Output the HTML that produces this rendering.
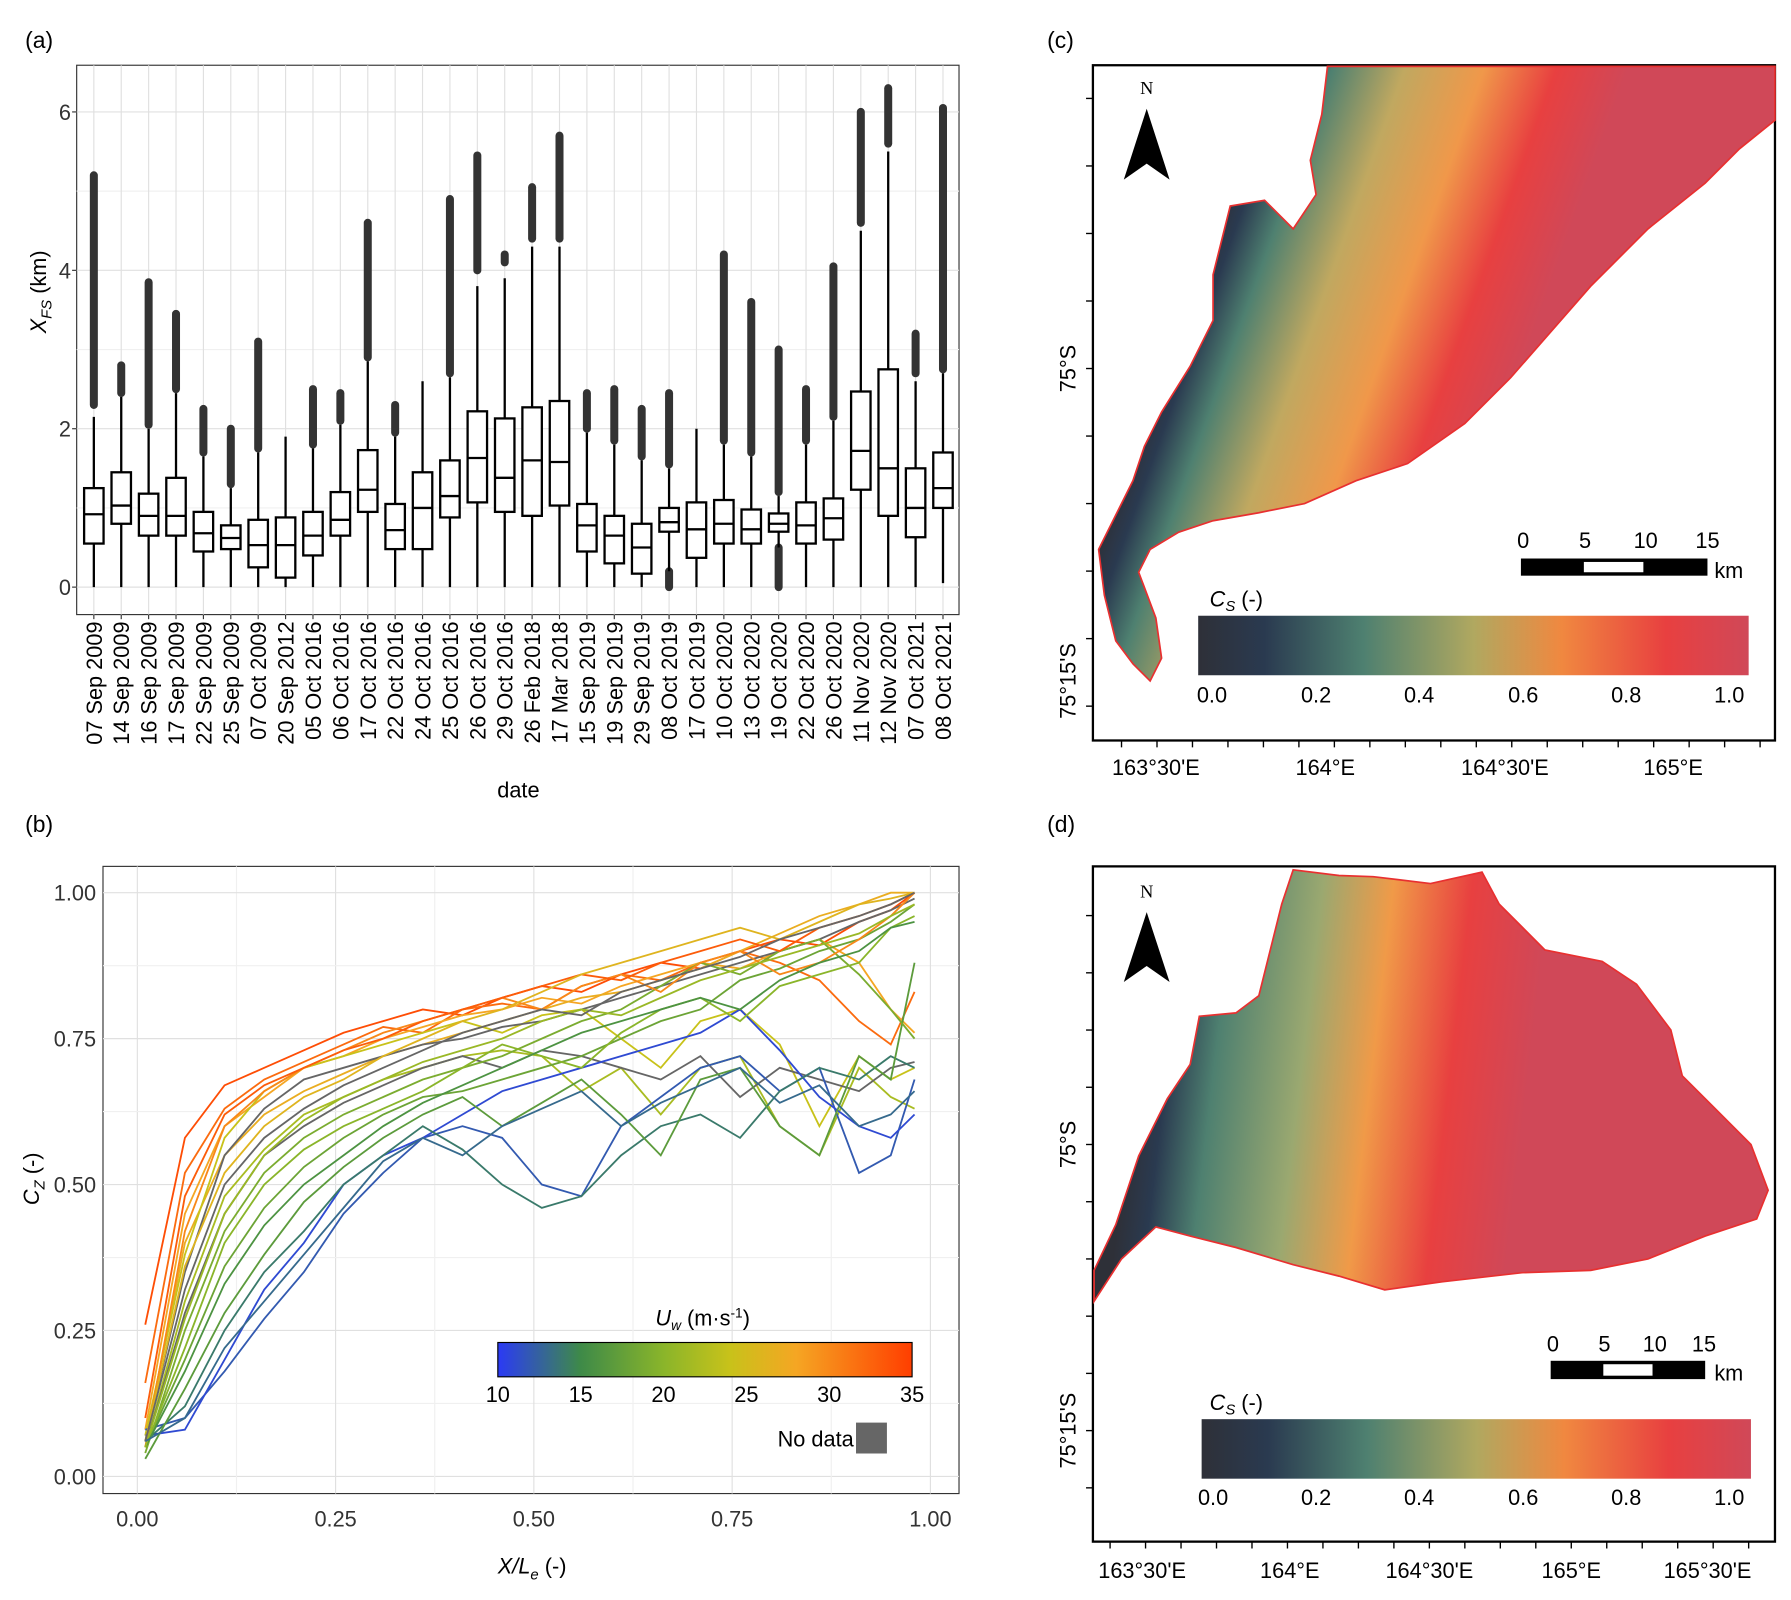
<!DOCTYPE html>
<html><head><meta charset="utf-8"><style>
html,body{margin:0;padding:0;background:#fff;}
svg{display:block;font-family:"Liberation Sans",Arial,sans-serif;}
</style></head><body>
<svg id="fig" width="1791" height="1600" viewBox="0 0 1565 1398" preserveAspectRatio="none" xmlns="http://www.w3.org/2000/svg">
<defs>
<linearGradient id="csgrad" x1="0" x2="1" y1="0" y2="0">
<stop offset="0" stop-color="#2e3038"/><stop offset="0.12" stop-color="#2a3a50"/><stop offset="0.3" stop-color="#4e8070"/><stop offset="0.5" stop-color="#b0a860"/><stop offset="0.66" stop-color="#f08840"/><stop offset="0.85" stop-color="#e84040"/><stop offset="1" stop-color="#d04858"/>
</linearGradient>
<linearGradient id="mapc" gradientUnits="userSpaceOnUse" x1="1050" y1="220" x2="1330" y2="320">
<stop offset="0" stop-color="#2e3038"/><stop offset="0.07" stop-color="#2a3a50"/><stop offset="0.18" stop-color="#4e8070"/><stop offset="0.38" stop-color="#c0a860"/><stop offset="0.6" stop-color="#f0984a"/><stop offset="0.8" stop-color="#e84040"/><stop offset="1" stop-color="#d04858"/>
</linearGradient>
<linearGradient id="mapd" gradientUnits="userSpaceOnUse" x1="990" y1="950" x2="1330" y2="990">
<stop offset="0" stop-color="#2e3038"/><stop offset="0.08" stop-color="#2a3a50"/><stop offset="0.2" stop-color="#4e8070"/><stop offset="0.42" stop-color="#9aa870"/><stop offset="0.6" stop-color="#f09a48"/><stop offset="0.8" stop-color="#e84040"/><stop offset="1" stop-color="#d04858"/>
</linearGradient>
<linearGradient id="uwgrad" x1="0" x2="1" y1="0" y2="0">
<stop offset="0" stop-color="#2b3af5"/><stop offset="0.2" stop-color="#3e8a48"/><stop offset="0.4" stop-color="#8ab52a"/><stop offset="0.56" stop-color="#c8c21a"/><stop offset="0.72" stop-color="#f5a623"/><stop offset="1" stop-color="#ff3e00"/>
</linearGradient>
</defs>
<g id="pa"></g>
<g id="pb"></g>

<!-- panel c -->
<g>
<text x="915" y="42" font-size="20">(c)</text>
<rect x="955" y="57" width="596" height="590" fill="#fff" stroke="#000" stroke-width="2"/>
<polygon fill="url(#mapc)" stroke="#e83030" stroke-width="1.5" points="1160,58 1551,58 1551,105 1520,130 1490,160 1440,200 1410,230 1390,250 1355,290 1320,330 1280,370 1230,405 1185,420 1140,440 1100,448 1060,455 1030,465 1005,480 995,500 1010,540 1015,575 1005,595 990,580 975,560 965,520 960,480 975,450 990,420 1000,390 1015,360 1040,320 1060,280 1060,240 1075,180 1105,175 1130,200 1150,170 1145,140 1155,100"/>
<text x="1002" y="82" font-size="16" font-family="Liberation Serif,serif" text-anchor="middle">N</text>
<polygon points="1002,95 982,157 1002,143 1022,157" fill="#000"/>
<g>
<rect x="1329" y="488" width="163" height="15" fill="#000"/><rect x="1384" y="491" width="52" height="9" fill="#fff"/>
<text x="1331" y="479" font-size="19" text-anchor="middle">0</text><text x="1385" y="479" font-size="19" text-anchor="middle">5</text><text x="1438" y="479" font-size="19" text-anchor="middle">10</text><text x="1492" y="479" font-size="19" text-anchor="middle">15</text><text x="1498" y="505" font-size="19">km</text>
</g>
<text x="1057" y="530" font-size="19"><tspan font-style="italic">C</tspan><tspan font-style="italic" font-size="13" dy="4">S</tspan><tspan dy="-4"> (-)</tspan></text>
<rect x="1047" y="538" width="481" height="52" fill="url(#csgrad)"/>
<g font-size="19" text-anchor="middle">
<text x="1059" y="614">0.0</text><text x="1150" y="614">0.2</text><text x="1240" y="614">0.4</text><text x="1331" y="614">0.6</text><text x="1421" y="614">0.8</text><text x="1511" y="614">1.0</text></g>
<g font-size="19" text-anchor="middle">
<text x="1010" y="677">163°30'E</text><text x="1158" y="677">164°E</text><text x="1315" y="677">164°30'E</text><text x="1462" y="677">165°E</text></g>
<text transform="translate(940,322) rotate(-90)" font-size="19" text-anchor="middle">75°S</text>
<text transform="translate(940,595) rotate(-90)" font-size="19" text-anchor="middle">75°15'S</text>
<g id="ticksc" stroke="#000" stroke-width="1.2"></g>
</g>

<!-- panel d -->
<g>
<text x="915" y="727" font-size="20">(d)</text>
<rect x="955" y="757" width="596" height="590" fill="#fff" stroke="#000" stroke-width="2"/>
<polygon fill="url(#mapd)" stroke="#e83030" stroke-width="1.5" points="1130,760 1170,765 1200,766 1250,772 1295,762 1310,790 1330,810 1350,830 1400,840 1430,860 1445,880 1460,900 1470,940 1500,970 1530,1000 1545,1040 1535,1065 1490,1080 1440,1100 1390,1110 1330,1112 1260,1120 1210,1127 1170,1115 1130,1105 1080,1090 1040,1080 1010,1072 980,1100 956,1137 956,1110 975,1070 995,1010 1020,960 1040,930 1048,888 1080,885 1100,870 1110,830 1120,790"/>
<text x="1002" y="784" font-size="16" font-family="Liberation Serif,serif" text-anchor="middle">N</text>
<polygon points="1002,797 982,858 1002,844 1022,858" fill="#000"/>
<g>
<rect x="1355" y="1189" width="135" height="16" fill="#000"/><rect x="1401" y="1192" width="43" height="10" fill="#fff"/>
<text x="1357" y="1181" font-size="19" text-anchor="middle">0</text><text x="1402" y="1181" font-size="19" text-anchor="middle">5</text><text x="1446" y="1181" font-size="19" text-anchor="middle">10</text><text x="1489" y="1181" font-size="19" text-anchor="middle">15</text><text x="1498" y="1206" font-size="19">km</text>
</g>
<text x="1057" y="1232" font-size="19"><tspan font-style="italic">C</tspan><tspan font-style="italic" font-size="13" dy="4">S</tspan><tspan dy="-4"> (-)</tspan></text>
<rect x="1050" y="1240" width="480" height="52" fill="url(#csgrad)"/>
<g font-size="19" text-anchor="middle">
<text x="1060" y="1315">0.0</text><text x="1150" y="1315">0.2</text><text x="1240" y="1315">0.4</text><text x="1331" y="1315">0.6</text><text x="1421" y="1315">0.8</text><text x="1511" y="1315">1.0</text></g>
<g font-size="19" text-anchor="middle">
<text x="998" y="1379">163°30'E</text><text x="1127" y="1379">164°E</text><text x="1249" y="1379">164°30'E</text><text x="1373" y="1379">165°E</text><text x="1492" y="1379">165°30'E</text></g>
<text transform="translate(940,1000) rotate(-90)" font-size="19" text-anchor="middle">75°S</text>
<text transform="translate(940,1250) rotate(-90)" font-size="19" text-anchor="middle">75°15'S</text>
<g id="ticksd" stroke="#000" stroke-width="1.2"></g>
</g>
</svg>
<script>
// ---------- Panel (a) data ----------
const dates=["07 Sep 2009","14 Sep 2009","16 Sep 2009","17 Sep 2009","22 Sep 2009","25 Sep 2009","07 Oct 2009","20 Sep 2012","05 Oct 2016","06 Oct 2016","17 Oct 2016","22 Oct 2016","24 Oct 2016","25 Oct 2016","26 Oct 2016","29 Oct 2016","26 Feb 2018","17 Mar 2018","15 Sep 2019","19 Sep 2019","29 Sep 2019","08 Oct 2019","17 Oct 2019","10 Oct 2020","13 Oct 2020","19 Oct 2020","22 Oct 2020","26 Oct 2020","11 Nov 2020","12 Nov 2020","07 Oct 2021","08 Oct 2021"];
const q1=[0.55,0.8,0.65,0.65,0.45,0.48,0.25,0.12,0.4,0.65,0.95,0.48,0.48,0.88,1.07,0.95,0.9,1.03,0.45,0.3,0.17,0.7,0.37,0.55,0.55,0.7,0.55,0.6,1.23,0.9,0.63,1.0];
const med=[0.92,1.03,0.9,0.9,0.68,0.62,0.53,0.53,0.65,0.85,1.23,0.72,1.0,1.15,1.63,1.38,1.6,1.58,0.78,0.65,0.5,0.82,0.73,0.8,0.73,0.8,0.78,0.87,1.72,1.5,1.0,1.25];
const q3=[1.25,1.45,1.18,1.38,0.95,0.78,0.85,0.88,0.95,1.2,1.73,1.05,1.45,1.6,2.22,2.13,2.27,2.35,1.05,0.9,0.8,1.0,1.07,1.1,0.98,0.93,1.07,1.12,2.47,2.75,1.5,1.7];
const whiskLo=[0,0,0,0,0,0,0,0,0,0,0,0,0,0,0,0,0,0,0,0,0,0.2,0,0,0,0.5,0,0,0,0,0,0.05];
const whiskHi=[2.15,2.4,2.0,2.45,1.65,1.25,1.7,1.9,1.75,2.05,2.85,1.9,2.6,2.65,3.8,3.9,4.3,4.3,1.95,1.8,1.6,1.5,2.0,1.8,1.65,1.15,1.8,2.1,4.5,5.5,2.6,2.7];
const outLo=[2.3,2.45,2.05,2.5,1.7,1.3,1.75,null,1.8,2.1,2.9,1.95,null,2.7,4.0,4.1,4.4,4.4,2.0,1.85,1.65,1.55,null,1.85,1.7,1.2,1.85,2.15,4.6,5.6,2.7,2.75];
const outHi=[5.2,2.8,3.85,3.45,2.25,2.0,3.1,null,2.5,2.45,4.6,2.3,null,4.9,5.45,4.2,5.05,5.7,2.45,2.5,2.25,2.45,null,4.2,3.6,3.0,2.5,4.05,6.0,6.3,3.2,6.05];
const yTicksA=[0,2,4,6];

// ---------- Panel (b) data ----------
const xsB=[0.01,0.06,0.11,0.16,0.21,0.26,0.31,0.36,0.41,0.46,0.51,0.56,0.61,0.66,0.71,0.76,0.81,0.86,0.91,0.95,0.98];
const windB=[34,32,28,27,24,22,null,null,12,11,14,17,18,19,20,30,33,26,16,21,null,13];
const s1=[0.26,0.58,0.67,0.70,0.73,0.76,0.78,0.80,0.79,0.82,0.84,0.83,0.86,0.88,0.87,0.90,0.92,0.91,0.95,0.97,1.00];
const s2=[0.16,0.52,0.63,0.68,0.71,0.74,0.77,0.76,0.80,0.81,0.80,0.84,0.86,0.85,0.88,0.90,0.88,0.85,0.78,0.74,0.83];
const s3=[0.08,0.45,0.60,0.65,0.70,0.72,0.75,0.77,0.79,0.80,0.82,0.81,0.84,0.86,0.88,0.87,0.90,0.92,0.88,0.80,0.76];
const s4=[0.06,0.40,0.55,0.62,0.66,0.69,0.72,0.74,0.76,0.78,0.80,0.82,0.83,0.85,0.87,0.90,0.93,0.96,0.98,1.00,1.00];
const s5=[0.07,0.38,0.58,0.66,0.70,0.72,0.74,0.76,0.78,0.76,0.79,0.80,0.75,0.70,0.78,0.80,0.74,0.60,0.72,0.68,0.70];
const s6=[0.05,0.30,0.48,0.56,0.62,0.65,0.68,0.70,0.72,0.73,0.72,0.66,0.70,0.62,0.70,0.72,0.60,0.55,0.70,0.65,0.63];
const s7=[0.06,0.35,0.55,0.63,0.68,0.70,0.72,0.74,0.75,0.77,0.78,0.80,0.82,0.84,0.86,0.88,0.90,0.92,0.95,0.97,0.99];
const s8=[0.05,0.28,0.45,0.55,0.60,0.64,0.67,0.70,0.72,0.70,0.73,0.72,0.70,0.68,0.72,0.65,0.70,0.68,0.66,0.70,0.71];
const s9=[0.08,0.10,0.18,0.27,0.35,0.45,0.52,0.58,0.60,0.58,0.50,0.48,0.60,0.65,0.70,0.72,0.66,0.70,0.52,0.55,0.68];
const s10=[0.07,0.08,0.20,0.32,0.40,0.50,0.55,0.58,0.62,0.66,0.68,0.70,0.72,0.74,0.76,0.80,0.73,0.65,0.60,0.58,0.62];
const s11=[0.06,0.12,0.25,0.35,0.42,0.50,0.55,0.60,0.56,0.50,0.46,0.48,0.55,0.60,0.62,0.58,0.66,0.70,0.68,0.72,0.70];
const s12=[0.03,0.15,0.28,0.38,0.47,0.53,0.58,0.62,0.65,0.60,0.64,0.68,0.62,0.55,0.68,0.70,0.60,0.55,0.72,0.68,0.88];
const s13=[0.05,0.20,0.36,0.46,0.53,0.58,0.62,0.65,0.66,0.68,0.70,0.72,0.75,0.78,0.80,0.85,0.87,0.90,0.92,0.95,0.98];
const s14=[0.04,0.25,0.42,0.52,0.58,0.62,0.65,0.68,0.70,0.72,0.75,0.78,0.80,0.84,0.88,0.86,0.90,0.92,0.86,0.80,0.75];
const s15=[0.05,0.22,0.40,0.50,0.56,0.60,0.63,0.66,0.70,0.74,0.72,0.70,0.76,0.80,0.82,0.78,0.84,0.86,0.88,0.94,0.96];
const s16=[0.05,0.42,0.60,0.66,0.70,0.73,0.76,0.78,0.80,0.82,0.80,0.84,0.86,0.83,0.88,0.90,0.86,0.88,0.92,0.96,1.00];
const s17=[0.10,0.48,0.62,0.67,0.70,0.73,0.75,0.78,0.80,0.82,0.84,0.86,0.85,0.88,0.90,0.92,0.90,0.94,0.96,0.98,1.00];
const s18=[0.06,0.36,0.52,0.60,0.65,0.68,0.72,0.75,0.78,0.80,0.83,0.86,0.88,0.90,0.92,0.94,0.92,0.95,0.98,0.99,1.00];
const s19=[0.05,0.18,0.33,0.43,0.50,0.55,0.60,0.64,0.67,0.70,0.73,0.76,0.78,0.80,0.82,0.80,0.85,0.88,0.90,0.94,0.95];
const s20=[0.05,0.27,0.45,0.55,0.61,0.65,0.68,0.71,0.73,0.75,0.78,0.80,0.79,0.82,0.85,0.87,0.89,0.91,0.93,0.96,0.98];
const s21=[0.06,0.32,0.50,0.58,0.63,0.67,0.70,0.73,0.76,0.78,0.80,0.79,0.83,0.85,0.87,0.89,0.92,0.94,0.96,0.98,1.00];
const s22=[0.06,0.10,0.22,0.30,0.38,0.46,0.54,0.58,0.55,0.60,0.63,0.66,0.60,0.64,0.67,0.70,0.64,0.67,0.60,0.62,0.66];
const seriesB=[s1,s2,s3,s4,s5,s6,s7,s8,s9,s10,s11,s12,s13,s14,s15,s16,s17,s18,s19,s20,s21,s22];
const xTicksB=[0,0.25,0.5,0.75,1];
const yTicksB=[0,0.25,0.5,0.75,1];
const uwTicks=[10,15,20,25,30,35];

const NS="http://www.w3.org/2000/svg";
function mk(tag,attrs,parent){const e=document.createElementNS(NS,tag);for(const k in attrs)e.setAttribute(k,attrs[k]);parent.appendChild(e);return e;}

// ---- Panel A ----
const pa=document.getElementById('pa');
const AL=67,AR=838,AT=57,AB=537;
const yA=v=>513-v*69.2;
const xA=i=>82+i*(824-82)/(dates.length-1);
let t=mk('text',{x:22,y:42,'font-size':20},pa);t.textContent='(a)';


let r=mk('rect',{x:AL,y:AT,width:AR-AL,height:AB-AT,fill:'#fff',stroke:'#333','stroke-width':1},pa);


for(let v=0;v<=6;v++){const l=mk('line',{x1:AL,x2:AR,y1:yA(v),y2:yA(v),stroke:v%2?'#f0f0f0':'#e0e0e0','stroke-width':1},pa);

}
dates.forEach((d,i)=>{const l=mk('line',{x1:xA(i),x2:xA(i),y1:AT,y2:AB,stroke:'#e0e0e0','stroke-width':1},pa);

});
yTicksA.forEach(v=>{const tx=mk('text',{x:62,y:yA(v)+7,'font-size':19,'text-anchor':'end',fill:'#333'},pa);tx.textContent=v;


mk('line',{x1:63,x2:67,y1:yA(v),y2:yA(v),stroke:'#333'},pa);});
const bw=17;
dates.forEach((d,i)=>{const x=xA(i);const g=mk('g',{},pa);


if(outLo[i]!==null){mk('line',{x1:x,x2:x,y1:yA(outLo[i]),y2:yA(outHi[i]),stroke:'#333','stroke-width':7,'stroke-linecap':'round'},g);}
if(i===21||i===25){mk('line',{x1:x,x2:x,y1:yA(0),y2:yA(whiskLo[i]),stroke:'#333','stroke-width':7,'stroke-linecap':'round'},g);}
mk('line',{x1:x,x2:x,y1:yA(whiskLo[i]),y2:yA(whiskHi[i]),stroke:'#000','stroke-width':2},g);
mk('rect',{x:x-bw/2,y:yA(q3[i]),width:bw,height:yA(q1[i])-yA(q3[i]),fill:'#fff',stroke:'#000','stroke-width':2},g);
mk('line',{x1:x-bw/2,x2:x+bw/2,y1:yA(med[i]),y2:yA(med[i]),stroke:'#000','stroke-width':2},g);
mk('line',{x1:x,x2:x,y1:AB,y2:AB+4,stroke:'#333'},pa);
const lb=mk('text',{transform:`translate(${x+7},543) rotate(-90)`,'font-size':19,'text-anchor':'end'},pa);lb.textContent=d;

});
t=mk('text',{x:453,y:697,'font-size':19,'text-anchor':'middle'},pa);t.textContent='date';


t=mk('text',{transform:'translate(40,255) rotate(-90)','font-size':19,'text-anchor':'middle'},pa);
t.innerHTML='<tspan font-style="italic">X</tspan><tspan font-style="italic" font-size="13" dy="5">FS</tspan><tspan dy="-5"> (km)</tspan>';



// ---- Panel B ----
const pb=document.getElementById('pb');
const BL=90,BR=838,BT=757,BB=1305;
const xB=v=>120+v*693;
const yB=v=>1290-v*510;
t=mk('text',{x:22,y:727,'font-size':20},pb);t.textContent='(b)';


r=mk('rect',{x:BL,y:BT,width:BR-BL,height:BB-BT,fill:'#fff',stroke:'#333'},pb);


for(let k=0;k<=8;k++){const v=k/8;
mk('line',{x1:BL,x2:BR,y1:yB(v),y2:yB(v),stroke:k%2?'#f0f0f0':'#e0e0e0'},pb);
mk('line',{x1:xB(v),x2:xB(v),y1:BT,y2:BB,stroke:k%2?'#f0f0f0':'#e0e0e0'},pb);}
yTicksB.forEach(v=>{const tx=mk('text',{x:84,y:yB(v)+7,'font-size':19,'text-anchor':'end',fill:'#333'},pb);tx.textContent=v.toFixed(2);

});
xTicksB.forEach(v=>{const tx=mk('text',{x:xB(v),y:1334,'font-size':19,'text-anchor':'middle',fill:'#333'},pb);tx.textContent=v.toFixed(2);

});
const stops=[[10,[43,58,245]],[15,[62,138,72]],[20,[138,181,42]],[24,[200,194,26]],[28,[245,166,35]],[35,[255,62,0]]];
function cmap(w){if(w===null)return '#666';for(let k=0;k<stops.length-1;k++){const[a,ca]=stops[k],[b,cb]=stops[k+1];if(w<=b){const f=(w-a)/(b-a);return 'rgb('+ca.map((c,j)=>Math.round(c+(cb[j]-c)*f)).join(',')+')';}}return 'rgb(255,62,0)';}
seriesB.forEach((s,i)=>{const p=mk('polyline',{points:s.map((v,j)=>xB(xsB[j])+','+yB(v)).join(' '),fill:'none',stroke:cmap(windB[i]),'stroke-width':1.6},pb);

});
t=mk('text',{x:465,y:1375,'font-size':19,'text-anchor':'middle'},pb);
t.innerHTML='<tspan font-style="italic">X/L</tspan><tspan font-style="italic" font-size="13" dy="5">e</tspan><tspan dy="-5"> (-)</tspan>';


t=mk('text',{transform:'translate(34,1030) rotate(-90)','font-size':19,'text-anchor':'middle'},pb);
t.innerHTML='<tspan font-style="italic">C</tspan><tspan font-style="italic" font-size="13" dy="5">Z</tspan><tspan dy="-5"> (-)</tspan>';


r=mk('rect',{x:435,y:1173,width:362,height:30,fill:'url(#uwgrad)',stroke:'#000','stroke-width':1},pb);


uwTicks.forEach(v=>{const x=435+(v-10)/25*362;const tx=mk('text',{x:x,y:1225,'font-size':19,'text-anchor':'middle'},pb);tx.textContent=v;

});
t=mk('text',{x:614,y:1158,'font-size':19,'text-anchor':'middle'},pb);
t.innerHTML='<tspan font-style="italic">U</tspan><tspan font-style="italic" font-size="12" dy="4">w</tspan><tspan dy="-4"> (m·s</tspan><tspan font-size="12" dy="-7">-1</tspan><tspan dy="7">)</tspan>';


t=mk('text',{x:746,y:1264,'font-size':19,'text-anchor':'end'},pb);t.textContent='No data';


r=mk('rect',{x:748,y:1243,width:27,height:27,fill:'#666'},pb);



// map ticks
const tc=document.getElementById('ticksc');
for(let y=86;y<640;y+=59)mk('line',{x1:949,x2:955,y1:y,y2:y},tc);
for(let x=980;x<1551;x+=31)mk('line',{x1:x,x2:x,y1:647,y2:653},tc);
const td=document.getElementById('ticksd');
for(let y=800;y<1345;y+=50)mk('line',{x1:949,x2:955,y1:y,y2:y},td);
for(let x=970;x<1551;x+=31)mk('line',{x1:x,x2:x,y1:1347,y2:1353},td);
</script>
</body></html>
